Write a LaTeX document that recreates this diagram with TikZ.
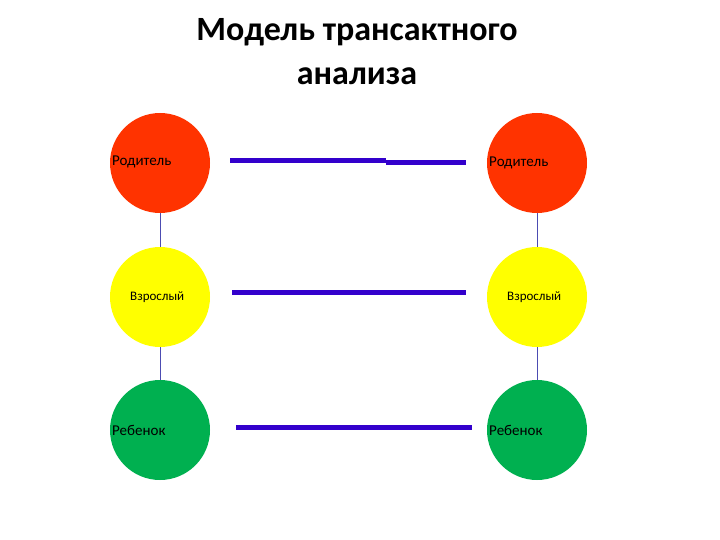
\documentclass[tikz,border=0pt]{standalone}
\usepackage{fontspec}
\setmainfont{Carlito}
\begin{document}
\begin{tikzpicture}[x=1pt,y=-1pt,
  circ/.style={circle,minimum size=100pt,inner sep=0pt},
  lbl/.style={font=\fontsize{15}{17}\selectfont},
  bar/.style={draw=blue!60!violet,line width=5pt},
  vline/.style={draw=blue!40!gray,line width=0.8pt}]
\useasboundingbox (0,0) rectangle (720,540);
\definecolor{cr}{HTML}{FF3300}\definecolor{cy}{HTML}{FFFF00}\definecolor{cg}{HTML}{00B050}
\node[font=\bfseries\fontsize{34}{44}\selectfont,align=center] (t) at (357,52) {Модель трансактного\\анализа};
\node[circ,fill=cr] (lp) at (160,163) {};
\node[circ,fill=cy] (la) at (160,297) {};
\node[circ,fill=cg] (lc) at (160,430) {};
\node[circ,fill=cr] (rp) at (537,163) {};
\node[circ,fill=cy] (ra) at (537,297) {};
\node[circ,fill=cg] (rc) at (537,430) {};
\node[lbl,anchor=west,inner sep=0pt] (lpt) at (112,162) {Родитель};
\node[lbl,font=\fontsize{13}{15}\selectfont,anchor=west,inner sep=0pt] (lat) at (130,297) {Взрослый};
\node[lbl,anchor=west,inner sep=0pt] (lct) at (112,430) {Ребенок};
\node[lbl,anchor=west,inner sep=0pt] (rpt) at (489,163) {Родитель};
\node[lbl,font=\fontsize{13}{15}\selectfont,anchor=west,inner sep=0pt] (rat) at (507,297) {Взрослый};
\node[lbl,anchor=west,inner sep=0pt] (rct) at (489,430) {Ребенок};
\draw[vline] (lp) -- (la); \draw[vline] (la) -- (lc);
\draw[vline] (rp) -- (ra); \draw[vline] (ra) -- (rc);
\coordinate (a1) at (230,161); \coordinate (a2) at (386,161);
\coordinate (a3) at (386,163); \coordinate (a4) at (466,163);
\draw[bar] (a1) -- (a2); \draw[bar] (a3) -- (a4);
\coordinate (b1) at (232,292); \coordinate (b2) at (466,292);
\draw[bar] (b1) -- (b2);
\coordinate (c1) at (236,427); \coordinate (c2) at (472,427);
\draw[bar] (c1) -- (c2);
\end{tikzpicture}
\end{document}
